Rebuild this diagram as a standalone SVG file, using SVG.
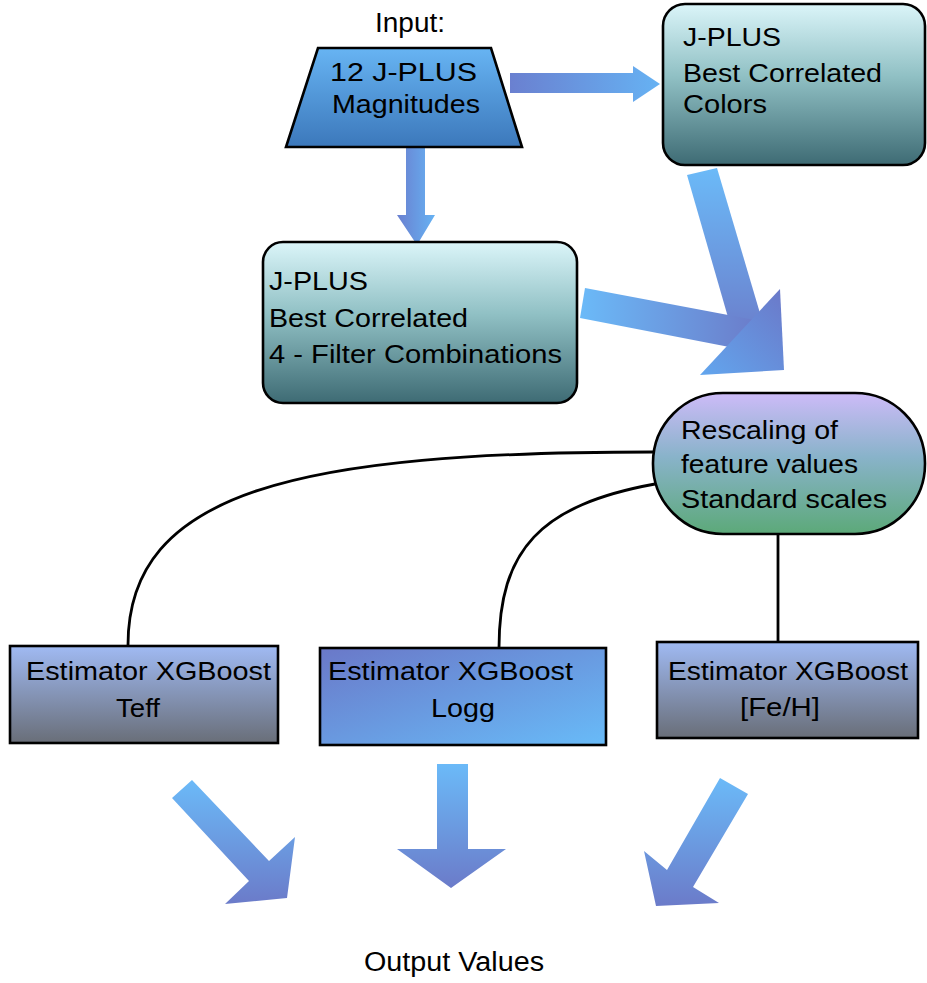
<svg xmlns="http://www.w3.org/2000/svg" width="927" height="983" viewBox="0 0 927 983">
<defs>
<style>
text{font-family:"Liberation Sans",Arial,Helvetica,sans-serif;font-size:25px;fill:#000}
.big{font-size:27px}
.box{stroke:#000;stroke-width:2.6}
.wire{fill:none;stroke:#000;stroke-width:2.8}
</style>
<linearGradient id="gTrap" x1="0" y1="0" x2="0" y2="1"><stop offset="0" stop-color="#67b4f3"/><stop offset="1" stop-color="#3c78bb"/></linearGradient>
<linearGradient id="gTeal" x1="0" y1="0" x2="0" y2="1"><stop offset="0" stop-color="#dbf5f9"/><stop offset="0.45" stop-color="#90c0c4"/><stop offset="1" stop-color="#3e6b74"/></linearGradient>
<linearGradient id="gPill" x1="0" y1="0" x2="0" y2="1"><stop offset="0" stop-color="#cdbbf8"/><stop offset="0.45" stop-color="#89b3ca"/><stop offset="1" stop-color="#5ca979"/></linearGradient>
<linearGradient id="gEst" x1="0" y1="0" x2="0" y2="1"><stop offset="0" stop-color="#a0baf3"/><stop offset="1" stop-color="#696e78"/></linearGradient>
<linearGradient id="gLogg" x1="0" y1="0" x2="1" y2="1"><stop offset="0" stop-color="#6a78c8"/><stop offset="1" stop-color="#68bbf8"/></linearGradient>
<linearGradient id="gArrH" x1="0" y1="0" x2="1" y2="0"><stop offset="0" stop-color="#6a80d0"/><stop offset="1" stop-color="#66b2f3"/></linearGradient>
<linearGradient id="gArrV" x1="0" y1="0" x2="0" y2="1"><stop offset="0" stop-color="#6bbaf8"/><stop offset="1" stop-color="#6b7bc9"/></linearGradient>
<linearGradient id="gArrR" x1="0" y1="0" x2="1" y2="0"><stop offset="0" stop-color="#6bbaf8"/><stop offset="1" stop-color="#6b7bc9"/></linearGradient>
<linearGradient id="gHead" x1="1" y1="0" x2="0" y2="1"><stop offset="0" stop-color="#6b78c8"/><stop offset="1" stop-color="#62a6ee"/></linearGradient>
</defs>
<rect width="927" height="983" fill="#fff"/>

<g id="connectors">
  <polygon points="510,73 633,73 633,66 660,84 633,102 633,93 510,93" fill="url(#gArrH)"/>
  <polygon points="406,148 425,148 425,215 435,215 417,245 397,215 406,215" fill="url(#gArrH)"/>
  <polygon points="687,175 717,168 765,330 736,345" fill="url(#gArrV)"/>
  <polygon points="585,288 760,321 750,351 580,318" fill="url(#gArrR)"/>
  <polygon points="780,289 784,370 700,375" fill="url(#gHead)"/>
  <path class="wire" d="M653,452 C300,452 128,490 128,645"/>
  <path class="wire" d="M655,484 C540,505 499,550 499,648"/>
  <path class="wire" d="M778,534 L778,642"/>
  <polygon points="172,798 192,780 269,861 295,837 287,898 225,904 249,881" fill="url(#gArrV)"/>
  <polygon points="437,764 468,764 468,849 506,849 451,888 397,849 437,849" fill="url(#gArrV)"/>
  <polygon points="720,778 748,794 693,887 719,903 656,906 644,851 667,870" fill="url(#gArrV)"/>
</g>

<g id="input-label">
  <text class="big" x="375" y="32" textLength="70" lengthAdjust="spacingAndGlyphs">Input:</text>
</g>

<g id="magnitudes">
  <polygon class="box" points="318,48 491,48 522,147 286,147" fill="url(#gTrap)"/>
  <text x="330" y="81" textLength="147" lengthAdjust="spacingAndGlyphs">12 J-PLUS</text>
  <text x="332" y="113" textLength="148" lengthAdjust="spacingAndGlyphs">Magnitudes</text>
</g>

<g id="colors">
  <rect class="box" x="663" y="4" width="262" height="161" rx="22" fill="url(#gTeal)"/>
  <text x="683" y="46" textLength="98" lengthAdjust="spacingAndGlyphs">J-PLUS</text>
  <text x="683" y="82" textLength="199" lengthAdjust="spacingAndGlyphs">Best Correlated</text>
  <text x="683" y="113" textLength="84" lengthAdjust="spacingAndGlyphs">Colors</text>
</g>

<g id="combinations">
  <rect class="box" x="263" y="242" width="314" height="161" rx="20" fill="url(#gTeal)"/>
  <text x="269" y="290" textLength="99" lengthAdjust="spacingAndGlyphs">J-PLUS</text>
  <text x="269" y="327" textLength="199" lengthAdjust="spacingAndGlyphs">Best Correlated</text>
  <text x="269" y="363" textLength="293" lengthAdjust="spacingAndGlyphs">4 - Filter Combinations</text>
</g>

<g id="rescaling">
  <rect class="box" x="653" y="393" width="272" height="141" rx="70" fill="url(#gPill)"/>
  <text x="681" y="439" textLength="157" lengthAdjust="spacingAndGlyphs">Rescaling of</text>
  <text x="681" y="473" textLength="177" lengthAdjust="spacingAndGlyphs">feature values</text>
  <text x="681" y="508" textLength="206" lengthAdjust="spacingAndGlyphs">Standard scales</text>
</g>

<g id="est-teff">
  <rect class="box" x="10" y="646" width="268" height="97" fill="url(#gEst)"/>
  <text x="26" y="680" textLength="245" lengthAdjust="spacingAndGlyphs">Estimator XGBoost</text>
  <text x="116" y="717" textLength="44" lengthAdjust="spacingAndGlyphs">Teff</text>
</g>

<g id="est-logg">
  <rect class="box" x="320" y="648" width="286" height="97" fill="url(#gLogg)"/>
  <text x="328" y="680" textLength="245" lengthAdjust="spacingAndGlyphs">Estimator XGBoost</text>
  <text x="431" y="717" textLength="64" lengthAdjust="spacingAndGlyphs">Logg</text>
</g>

<g id="est-feh">
  <rect class="box" x="657" y="642" width="261" height="96" fill="url(#gEst)"/>
  <text x="668" y="680" textLength="240" lengthAdjust="spacingAndGlyphs">Estimator XGBoost</text>
  <text x="740" y="716" textLength="80" lengthAdjust="spacingAndGlyphs">[Fe/H]</text>
</g>

<g id="output-label">
  <text class="big" x="364" y="971" textLength="180" lengthAdjust="spacingAndGlyphs">Output Values</text>
</g>
</svg>
